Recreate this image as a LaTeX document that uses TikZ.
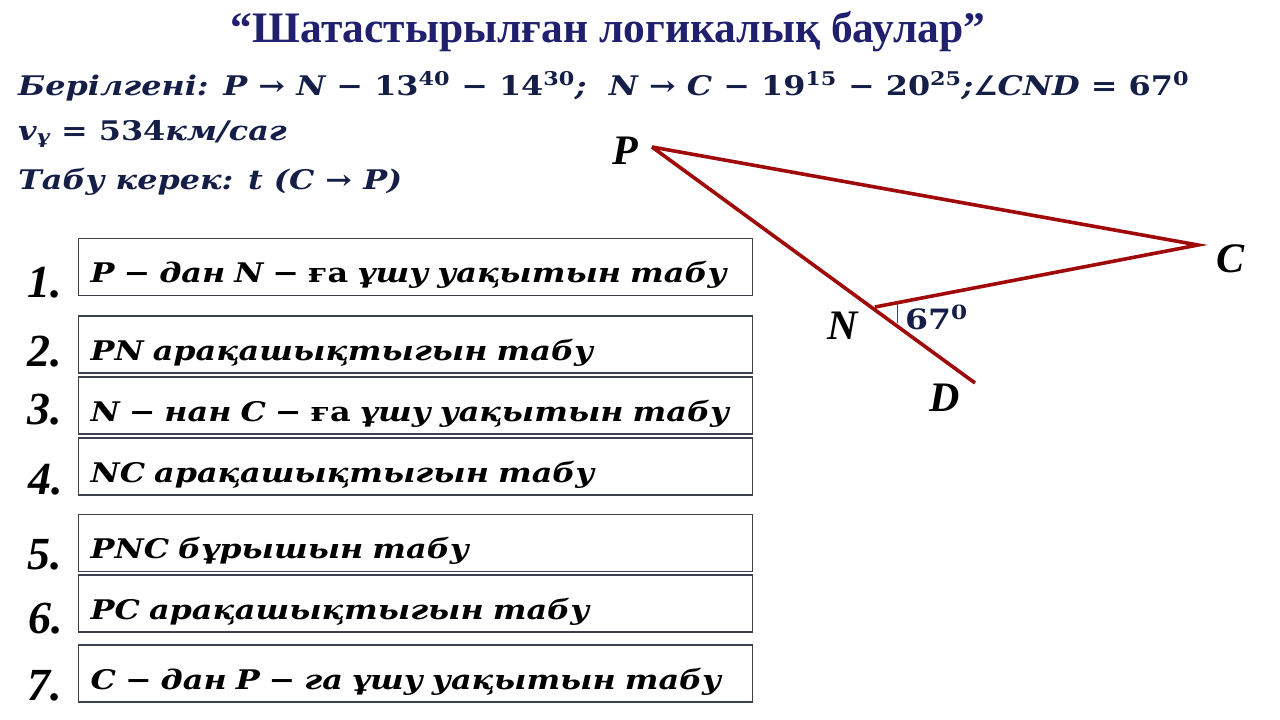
\documentclass[tikz,border=0pt]{standalone}
\usepackage{fontspec}
\setmainfont{Liberation Serif}
\newfontfamily\symf{DejaVu Sans}
\newfontfamily\mathf[FakeStretch=1.18]{DejaVu Serif}
\definecolor{navy}{RGB}{32,32,110}
\definecolor{ink}{RGB}{20,30,70}
\definecolor{linered}{RGB}{160,10,10}
\definecolor{boxgray}{RGB}{60,64,76}
\newcommand{\supnum}[1]{\textsuperscript{\textup{#1}}}
\newcommand{\dg}[1]{\textup{#1}}
\begin{document}
\begin{tikzpicture}[x=1pt, y=-1pt,
	box/.style={draw=boxgray, line width=1.4pt, anchor=west, minimum height=57pt, text width=650pt, text height=33pt, text depth=2pt, inner xsep=12pt, align=left, font=\mathf\fontsize{27}{30}\selectfont\bfseries\itshape},
	num/.style={anchor=base, inner sep=0pt, font=\fontsize{46}{50}\selectfont\bfseries\itshape},
	lbl/.style={inner sep=0pt, font=\fontsize{42}{46}\selectfont\bfseries\itshape},
	given/.style={anchor=base west, inner sep=0pt, text=ink, font=\mathf\fontsize{27}{30}\selectfont\bfseries\itshape},
	side/.style={linered, line width=3.6pt}]
	\useasboundingbox[fill=white] (0,0) rectangle (1280,720);

	% title
	\node[anchor=base, inner sep=0pt, text=navy, font=\fontsize{43.5}{46}\selectfont\bfseries] (title) at (608,42) {“Шатастырылған логикалық баулар”};

	% given data
	\node[given] (g1) at (18,95) {Берілгені: P → N − \dg{13}\supnum{40} − \dg{14}\supnum{30};\ \ N → C − \dg{19}\supnum{15} − \dg{20}\supnum{25};{\symf\bfseries ∠}CND = \dg{67}\supnum{0}};
	\node[given] (g2) at (18,140) {v\textsubscript{ұ} = \dg{534}км/саг};
	\node[given] (g3) at (18,189) {Табу керек: t (C → P)};

	% steps
	\node[box] (s1) at (78,267) {P − дан N − \textup{ға} ұшу уақытын табу};
	\node[box] (s2) at (78,344.5) {PN арақашықтыгын табу};
	\node[box] (s3) at (78,405.5) {N − нан C − \textup{ға} ұшу уақытын табу};
	\node[box] (s4) at (78,466.5) {NC арақашықтыгын табу};
	\node[box] (s5) at (78,543) {PNC бұрышын табу};
	\node[box] (s6) at (78,603.5) {PC арақашықтыгын табу};
	\node[box] (s7) at (78,673.5) {C − дан P − га ұшу уақытын табу};

	\node[num] (n1) at (45,297) {1.};
	\node[num] (n2) at (45,366) {2.};
	\node[num] (n3) at (45,424) {3.};
	\node[num] (n4) at (46,494) {4.};
	\node[num] (n5) at (45,569) {5.};
	\node[num] (n6) at (46,633) {6.};
	\node[num] (n7) at (45,700) {7.};

	% triangle
	\coordinate (p) at (652,147);
	\coordinate (c) at (1198,245);
	\coordinate (n) at (875,307);
	\coordinate (d) at (975,383);
	\draw[side] (p) -- (c) -- (n);
	\draw[side] (p) -- (d);
	\draw[blue!60!gray, line width=0.6pt] (897,301) -- (897,323);

	\node[lbl] (lp) at (625,151) {P};
	\node[lbl] (lc) at (1230,259) {C};
	\node[lbl] (ln) at (843,326) {N};
	\node[lbl] (ld) at (945,398) {D};
	\node[anchor=base west, inner sep=0pt, text=ink, font=\mathf\fontsize{28}{30}\selectfont\bfseries] (ang) at (905,329) {67\textsuperscript{0}};
\end{tikzpicture}
\end{document}
